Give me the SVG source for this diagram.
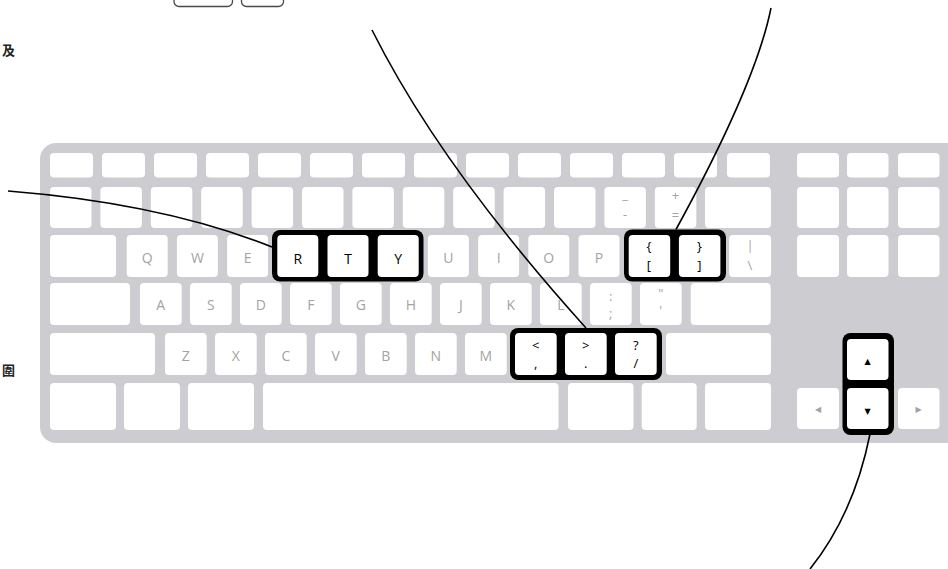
<svg xmlns="http://www.w3.org/2000/svg" width="948" height="569" viewBox="0 0 948 569">
<style>
.bg{fill:#ffffff}
.body{fill:#cdcdd1}
.k{fill:#ffffff}
.hl{fill:#000000}
.t{font-family:"Open Sans","Liberation Sans",sans-serif;font-size:14px;fill:#a3a3a3;text-anchor:middle}
.tb{font-family:"Open Sans","Liberation Sans",sans-serif;font-size:14px;fill:#000000;text-anchor:middle}
.tbs{font-family:"Open Sans","Liberation Sans",sans-serif;font-size:13px;fill:#000000;text-anchor:middle}
.ts{font-family:"Open Sans","Liberation Sans",sans-serif;font-size:13px;fill:#a3a3a3;text-anchor:middle}
.ar{font-family:"DejaVu Sans",sans-serif;font-size:8px;text-anchor:middle}
.cjk{font-family:"Noto Sans CJK TC","Noto Sans CJK SC",sans-serif;font-size:13px;font-weight:bold;fill:#222}
.top{fill:#ffffff;stroke:#4a4a4a;stroke-width:1.3}
.conn{fill:none;stroke:#000000;stroke-width:1.6}
</style>
<rect class="bg" x="0" y="0" width="948" height="569"/>

<g id="top-keys">
<rect class="top" x="174" y="-20" width="58.5" height="26.5" rx="5"/>
<rect class="top" x="241.5" y="-20" width="42" height="26.5" rx="5"/>
</g>

<g id="labels-left">
<text class="cjk" x="2" y="55">及</text>
<text class="cjk" x="2" y="375">圍</text>
</g>

<g id="keyboard">
<rect class="body" x="40" y="143" width="940" height="300" rx="16"/>

<g id="row-function">
<rect class="k" x="50" y="153" width="43" height="24.5" rx="4"/>
<rect class="k" x="102" y="153" width="43" height="24.5" rx="4"/>
<rect class="k" x="154" y="153" width="43" height="24.5" rx="4"/>
<rect class="k" x="206" y="153" width="43" height="24.5" rx="4"/>
<rect class="k" x="258" y="153" width="43" height="24.5" rx="4"/>
<rect class="k" x="310" y="153" width="43" height="24.5" rx="4"/>
<rect class="k" x="362" y="153" width="43" height="24.5" rx="4"/>
<rect class="k" x="414" y="153" width="43" height="24.5" rx="4"/>
<rect class="k" x="466" y="153" width="43" height="24.5" rx="4"/>
<rect class="k" x="518" y="153" width="43" height="24.5" rx="4"/>
<rect class="k" x="570" y="153" width="43" height="24.5" rx="4"/>
<rect class="k" x="622" y="153" width="43" height="24.5" rx="4"/>
<rect class="k" x="674" y="153" width="43" height="24.5" rx="4"/>
<rect class="k" x="727" y="153" width="43" height="24.5" rx="4"/>
<rect class="k" x="797" y="153" width="42" height="24.5" rx="4"/>
<rect class="k" x="847" y="153" width="41.5" height="24.5" rx="4"/>
<rect class="k" x="898" y="153" width="41.5" height="24.5" rx="4"/>
</g>

<g id="row-number">
<rect class="k" x="50" y="187" width="41.5" height="41" rx="4"/>
<rect class="k" x="100.4" y="187" width="41.5" height="41" rx="4"/>
<rect class="k" x="150.8" y="187" width="41.5" height="41" rx="4"/>
<rect class="k" x="201.2" y="187" width="41.5" height="41" rx="4"/>
<rect class="k" x="251.6" y="187" width="41.5" height="41" rx="4"/>
<rect class="k" x="302" y="187" width="41.5" height="41" rx="4"/>
<rect class="k" x="352.4" y="187" width="41.5" height="41" rx="4"/>
<rect class="k" x="402.8" y="187" width="41.5" height="41" rx="4"/>
<rect class="k" x="453.2" y="187" width="41.5" height="41" rx="4"/>
<rect class="k" x="503.6" y="187" width="41.5" height="41" rx="4"/>
<rect class="k" x="554" y="187" width="41.5" height="41" rx="4"/>
<g id="key-minus"><rect class="k" x="604.4" y="187" width="41.5" height="41" rx="4"/>
<text class="ts" x="625" y="199">_</text><text class="ts" x="625" y="219">-</text></g>
<g id="key-equal"><rect class="k" x="654.8" y="187" width="41.5" height="41" rx="4"/>
<text class="ts" x="675.5" y="199.5">+</text><text class="ts" x="675.5" y="219.5">=</text></g>
<rect class="k" x="705" y="187" width="66" height="41" rx="4"/>
<rect class="k" x="797" y="187" width="42" height="41" rx="4"/>
<rect class="k" x="847" y="187" width="41.5" height="41" rx="4"/>
<rect class="k" x="898" y="187" width="41.5" height="41" rx="4"/>
</g>

<g id="row-qwerty">
<rect class="k" x="50" y="235" width="66" height="42" rx="4"/>
<g id="key-q"><rect class="k" x="126.7" y="235" width="41" height="42" rx="4"/><text class="t" x="147.2" y="262.5">Q</text></g>
<g id="key-w"><rect class="k" x="176.9" y="235" width="41" height="42" rx="4"/><text class="t" x="197.4" y="262.5">W</text></g>
<g id="key-e"><rect class="k" x="227.1" y="235" width="41" height="42" rx="4"/><text class="t" x="247.6" y="262.5">E</text></g>
<g id="key-u"><rect class="k" x="427.9" y="235" width="41" height="42" rx="4"/><text class="t" x="448.4" y="262.5">U</text></g>
<g id="key-i"><rect class="k" x="478.1" y="235" width="41" height="42" rx="4"/><text class="t" x="498.6" y="262.5">I</text></g>
<g id="key-o"><rect class="k" x="528.3" y="235" width="41" height="42" rx="4"/><text class="t" x="548.8" y="262.5">O</text></g>
<g id="key-p"><rect class="k" x="578.5" y="235" width="41" height="42" rx="4"/><text class="t" x="599" y="262.5">P</text></g>
<g id="key-backslash"><rect class="k" x="729.1" y="235" width="42" height="42" rx="4"/>
<text class="ts" x="750" y="250">|</text><text class="ts" x="750" y="270">\</text></g>
<rect class="k" x="797" y="235" width="42" height="42" rx="4"/>
<rect class="k" x="847" y="235" width="41.5" height="42" rx="4"/>
<rect class="k" x="898" y="235" width="41.5" height="42" rx="4"/>
</g>

<g id="row-asdf">
<rect class="k" x="50" y="283" width="80" height="42" rx="4"/>
<g id="key-a"><rect class="k" x="140" y="283" width="41.7" height="42" rx="4"/><text class="t" x="160.8" y="310">A</text></g>
<g id="key-s"><rect class="k" x="190" y="283" width="41.7" height="42" rx="4"/><text class="t" x="210.8" y="310">S</text></g>
<g id="key-d"><rect class="k" x="240" y="283" width="41.7" height="42" rx="4"/><text class="t" x="260.8" y="310">D</text></g>
<g id="key-f"><rect class="k" x="290" y="283" width="41.7" height="42" rx="4"/><text class="t" x="310.8" y="310">F</text></g>
<g id="key-g"><rect class="k" x="340" y="283" width="41.7" height="42" rx="4"/><text class="t" x="360.8" y="310">G</text></g>
<g id="key-h"><rect class="k" x="390" y="283" width="41.7" height="42" rx="4"/><text class="t" x="410.8" y="310">H</text></g>
<g id="key-j"><rect class="k" x="440" y="283" width="41.7" height="42" rx="4"/><text class="t" x="460.8" y="310">J</text></g>
<g id="key-k"><rect class="k" x="490" y="283" width="41.7" height="42" rx="4"/><text class="t" x="510.8" y="310">K</text></g>
<g id="key-l"><rect class="k" x="540" y="283" width="41.7" height="42" rx="4"/><text class="t" x="560.8" y="310">L</text></g>
<g id="key-semicolon"><rect class="k" x="590" y="283" width="41.7" height="42" rx="4"/>
<text class="ts" x="610.8" y="301">:</text><text class="ts" x="610.8" y="318">;</text></g>
<g id="key-quote"><rect class="k" x="640" y="283" width="41.7" height="42" rx="4"/>
<text class="ts" x="660.8" y="298">"</text><text class="ts" x="660.8" y="315">'</text></g>
<rect class="k" x="690.7" y="283" width="80" height="42" rx="4"/>
</g>

<g id="row-zxcv">
<rect class="k" x="50" y="333" width="105" height="42" rx="4"/>
<g id="key-z"><rect class="k" x="165" y="333" width="41.7" height="42" rx="4"/><text class="t" x="185.8" y="361">Z</text></g>
<g id="key-x"><rect class="k" x="215" y="333" width="41.7" height="42" rx="4"/><text class="t" x="235.8" y="361">X</text></g>
<g id="key-c"><rect class="k" x="265" y="333" width="41.7" height="42" rx="4"/><text class="t" x="285.8" y="361">C</text></g>
<g id="key-v"><rect class="k" x="315" y="333" width="41.7" height="42" rx="4"/><text class="t" x="335.8" y="361">V</text></g>
<g id="key-b"><rect class="k" x="365" y="333" width="41.7" height="42" rx="4"/><text class="t" x="385.8" y="361">B</text></g>
<g id="key-n"><rect class="k" x="415" y="333" width="41.7" height="42" rx="4"/><text class="t" x="435.8" y="361">N</text></g>
<g id="key-m"><rect class="k" x="465" y="333" width="41.7" height="42" rx="4"/><text class="t" x="485.8" y="361">M</text></g>
<rect class="k" x="666" y="333" width="105" height="42" rx="4"/>
</g>

<g id="row-bottom">
<rect class="k" x="50" y="383" width="66" height="47" rx="4"/>
<rect class="k" x="124" y="383" width="56" height="47" rx="4"/>
<rect class="k" x="188" y="383" width="66" height="47" rx="4"/>
<rect class="k" x="263" y="383" width="295.5" height="47" rx="4"/>
<rect class="k" x="568" y="383" width="65.5" height="47" rx="4"/>
<rect class="k" x="641.7" y="383" width="55" height="47" rx="4"/>
<rect class="k" x="705" y="383" width="66" height="47" rx="4"/>
<g id="key-left"><rect class="k" x="797" y="388" width="42" height="41" rx="4"/><text class="ar" x="818" y="412" fill="#a3a3a3">◀</text></g>
<g id="key-right"><rect class="k" x="898" y="388" width="41.5" height="41" rx="4"/><text class="ar" x="918.7" y="412" fill="#a3a3a3">▶</text></g>
</g>
</g>

<g id="highlight-rty">
<rect class="hl" x="272" y="230" width="151.5" height="51.5" rx="8"/>
<rect class="k" x="277.3" y="235" width="41" height="42" rx="4"/><text class="tb" x="297.8" y="264">R</text>
<rect class="k" x="327.5" y="235" width="41" height="42" rx="4"/><text class="tb" x="348" y="264">T</text>
<rect class="k" x="377.7" y="235" width="41" height="42" rx="4"/><text class="tb" x="398.2" y="264">Y</text>
</g>

<g id="highlight-brackets">
<rect class="hl" x="624" y="229.5" width="102" height="52" rx="8"/>
<rect class="k" x="628.7" y="235" width="41.5" height="42" rx="4"/>
<text class="tbs" x="649" y="251">{</text><text class="tbs" x="649" y="270">[</text>
<rect class="k" x="678.9" y="235" width="41.5" height="42" rx="4"/>
<text class="tbs" x="699.5" y="251">}</text><text class="tbs" x="699.5" y="270">]</text>
</g>

<g id="highlight-punct">
<rect class="hl" x="510" y="328" width="152" height="52" rx="8"/>
<rect class="k" x="515" y="333" width="41.7" height="42" rx="4"/>
<text class="tbs" x="535.8" y="349.5">&lt;</text><text class="tbs" x="535.8" y="367.5">,</text>
<rect class="k" x="565" y="333" width="41.7" height="42" rx="4"/>
<text class="tbs" x="585.8" y="349.5">&gt;</text><text class="tbs" x="585.8" y="367.5">.</text>
<rect class="k" x="615" y="333" width="41.7" height="42" rx="4"/>
<text class="tbs" x="635.8" y="349.5">?</text><text class="tbs" x="635.8" y="367.5">/</text>
</g>

<g id="highlight-arrows">
<rect class="hl" x="842.5" y="333" width="51.5" height="102" rx="8"/>
<rect class="k" x="847" y="339" width="41.5" height="41" rx="4"/>
<text class="ar" x="867.7" y="363.5" fill="#000">▲</text>
<rect class="k" x="847" y="388" width="41.5" height="41" rx="4"/>
<text class="ar" x="867.7" y="413.5" fill="#000">▼</text>
</g>

<g id="connectors">
<path class="conn" d="M8,191 Q163,203.4 272,247"/>
<path class="conn" d="M372,30 Q439.75,165.5 586,328"/>
<path class="conn" d="M771,8 Q755.8,83.9 676,229.5"/>
<path class="conn" d="M870,434 Q854,514 810,569"/>
</g>
</svg>
